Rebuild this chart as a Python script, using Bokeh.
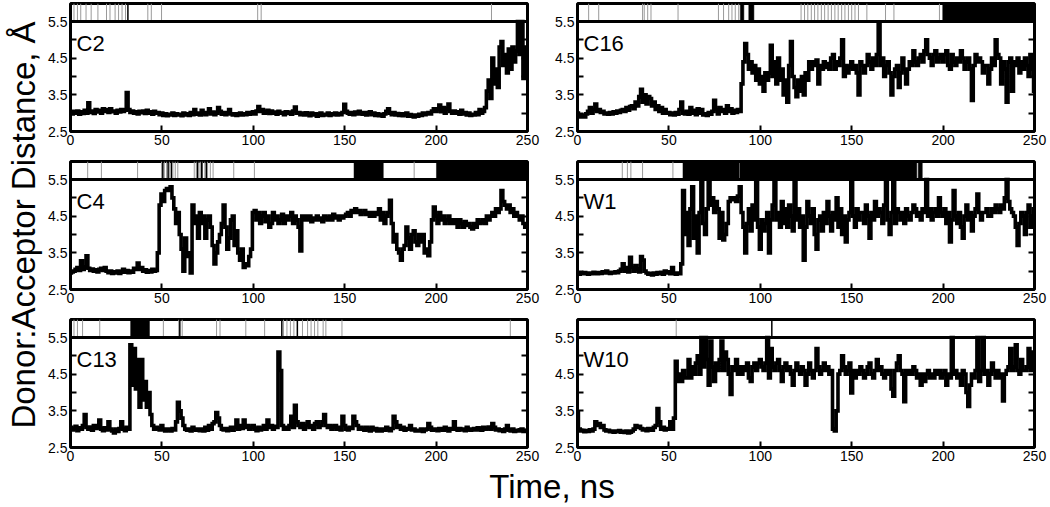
from math import pi
from bokeh.plotting import figure
from bokeh.layouts import row, column
from bokeh.models import Range1d, FixedTicker, LinearAxis, Label, Span, CustomJSTickFormatter
from bokeh.embed import file_html
from bokeh.resources import INLINE

# ---------------- data ----------------
time_ns = list(range(251))
x_ticks = [0, 50, 100, 150, 200, 250]
y_major = [2.5, 3.5, 4.5, 5.5]
y_minor = [3.0, 4.0, 5.0]

c2_dist = [
    3.02, 2.98, 3.05, 3.0, 3.06, 2.97, 3.04, 2.99, 3.08, 3.0,
    3.28, 3.02, 3.06, 2.99, 3.1, 3.03, 3.08, 3.0, 3.12, 3.05,
    3.1, 3.02, 3.12, 3.04, 3.06, 3.0, 3.08, 3.03, 3.1, 3.05,
    3.08, 3.56, 3.1, 3.02, 3.06, 3.0, 3.04, 2.98, 3.05, 3.01,
    3.06, 2.99, 3.08, 3.0, 3.04, 2.97, 3.05, 3.0, 3.02, 2.96,
    3.0, 2.94, 2.98, 2.93, 2.97, 2.95, 3.0, 2.94, 2.98, 2.95,
    2.97, 2.93, 3.0, 2.95, 2.98, 2.94, 3.02, 2.96, 3.1, 2.97,
    3.0, 2.95, 3.08, 3.0, 2.96, 3.02, 3.12, 2.98, 3.03, 2.96,
    3.0, 3.15, 3.05, 2.97, 3.02, 2.96, 3.0, 3.1, 2.98, 2.95,
    2.98, 2.94, 2.97, 3.0, 2.95, 2.98, 2.96, 3.02, 2.97, 3.0,
    3.04, 2.98, 3.06, 3.18, 3.05, 3.1, 3.0, 3.04, 3.08, 2.99,
    3.06, 3.0, 3.03, 2.97, 3.05, 3.0, 3.02, 2.96, 3.04, 2.99,
    3.03, 2.97, 3.06, 3.17, 3.0, 3.02, 2.96, 3.0, 2.95, 3.01,
    2.97, 2.93, 3.0, 2.95, 2.98, 2.92, 2.96, 3.0, 2.94, 2.97,
    2.95, 3.0, 2.94, 2.98, 2.96, 3.0, 2.95, 2.99, 2.96, 3.02,
    3.24, 3.05, 3.0, 2.97, 3.02, 2.96, 3.03, 2.98, 3.05, 3.0,
    2.97, 3.02, 2.95, 3.0, 3.04, 2.96, 3.0, 2.94, 2.98, 2.93,
    2.97, 2.92, 2.98, 3.05, 3.12, 3.0, 2.96, 3.02, 2.95, 2.99,
    2.94, 2.98, 2.93, 2.97, 3.0, 2.92, 2.96, 2.93, 2.9, 2.95,
    2.92, 2.97, 2.94, 3.0, 2.96, 2.99, 3.02, 2.98, 3.06, 3.12,
    3.05, 3.1, 3.22, 3.04, 3.15, 3.0, 3.12, 3.25, 3.05, 3.0,
    3.06, 3.0, 3.04, 2.97, 3.08, 2.98, 3.02, 2.95, 3.0, 2.94,
    2.97, 2.95, 3.02, 2.96, 3.1, 3.0, 3.05, 3.15, 3.6, 3.9,
    3.4, 4.5, 3.8, 4.2, 3.7, 4.8, 4.95, 4.3, 4.6, 4.1,
    4.75, 4.2, 4.8, 4.4, 4.7, 5.5, 4.6, 5.5, 3.95, 4.8,
    4.6,
]

c16_dist = [
    3.0, 2.92, 2.9, 2.95, 2.9, 2.98, 3.05, 3.15, 3.0, 3.1,
    3.25, 3.05, 3.1, 3.02, 3.05, 2.98, 3.0, 2.97, 3.02, 2.98,
    3.04, 3.0, 3.06, 3.02, 3.08, 3.1, 3.05, 3.15, 3.08, 3.18,
    3.2, 3.12, 3.3, 3.2, 3.45, 3.65, 3.3, 3.5, 3.25, 3.45,
    3.4, 3.2, 3.3, 3.1, 3.2, 3.05, 3.15, 3.0, 3.1, 3.0,
    3.02, 2.96, 3.0, 2.95, 3.02, 2.97, 3.1, 3.3, 3.0, 2.98,
    3.05, 2.97, 3.15, 3.0, 3.08, 2.96, 3.12, 3.0, 3.1, 2.95,
    2.98, 2.94, 3.02, 2.97, 3.05, 3.35, 3.1, 2.98, 3.15, 3.05,
    3.1, 3.0, 3.2, 3.05, 3.12, 3.0, 3.08, 3.02, 3.1, 3.05,
    3.8, 4.4, 4.9, 4.6, 4.2, 4.4, 4.1, 4.3, 3.9, 4.2,
    3.8, 4.0, 3.6, 4.1, 3.9, 4.1, 4.85, 4.0, 4.4, 3.8,
    4.5, 3.9, 4.2, 3.5, 3.9, 3.3, 4.3, 4.95, 4.0, 3.7,
    3.45, 3.9, 3.6, 4.0, 3.5, 4.1, 3.9, 4.4, 4.2, 4.4,
    4.3, 4.45, 3.8, 4.3, 4.2, 4.4, 4.25, 4.35, 4.2, 4.5,
    4.6, 4.2, 4.4, 4.3, 4.5, 5.0, 4.0, 4.3, 4.1, 4.25,
    4.4, 4.2, 4.3, 4.1, 3.5, 4.4, 4.3, 4.1, 4.3, 4.6,
    4.4, 4.2, 4.5, 4.3, 4.6, 5.45, 4.3, 4.5, 4.0, 4.3,
    4.4, 4.1, 3.5, 4.0, 4.2, 4.3, 3.7, 4.1, 4.5, 4.2,
    3.8, 4.2, 4.4, 4.3, 4.7, 4.4, 4.3, 4.5, 4.6, 4.4,
    4.7, 5.0, 4.6, 4.5, 4.3, 4.6, 4.7, 4.4, 4.5, 4.6,
    4.4, 4.6, 4.7, 4.3, 4.2, 4.6, 4.4, 4.3, 4.5, 4.4,
    4.7, 4.5, 4.2, 4.4, 4.5, 4.2, 3.35, 4.3, 4.6, 4.4,
    4.5, 4.4, 4.1, 4.3, 4.3, 3.8, 4.2, 4.5, 4.3, 5.0,
    4.6, 4.5, 3.8, 4.4, 4.2, 3.3, 4.4, 4.5, 3.6, 4.4,
    4.3, 4.5, 4.1, 4.4, 4.2, 4.5, 4.3, 4.0, 4.6, 4.2,
    3.6,
]

c4_dist = [
    2.95, 2.98, 3.0, 3.05, 3.1, 3.02, 3.28, 3.05, 3.12, 3.42,
    3.08, 3.02, 3.06, 3.0, 3.04, 2.98, 3.05, 3.08, 3.02, 3.1,
    3.0, 2.96, 3.0, 2.94, 2.98, 2.95, 3.0, 2.94, 2.98, 3.05,
    2.97, 3.02, 2.96, 3.0, 2.97, 3.08, 3.05, 3.22, 3.05, 3.1,
    3.0, 3.04, 2.97, 3.02, 2.98, 3.05, 3.0, 3.02, 3.5, 4.8,
    5.1, 4.9, 5.2, 5.25, 5.2, 5.3, 5.0, 4.7, 4.3, 4.6,
    4.0, 3.6, 3.0, 3.9, 3.4, 3.5, 2.95, 4.8, 4.3, 4.5,
    3.9, 4.6, 4.3, 4.5, 3.9, 4.4, 4.5, 4.2, 3.7, 3.2,
    3.5, 3.8, 4.0, 4.3, 4.8, 4.2, 3.6, 3.9, 4.4, 4.5,
    3.7, 4.1, 3.5, 3.3, 3.6, 3.1, 3.2, 3.15, 3.4, 3.6,
    4.6, 4.65, 4.4, 4.6, 4.3, 4.5, 4.6, 4.35, 4.5, 4.2,
    4.3, 4.6, 4.4, 4.5, 4.3, 4.4, 4.55, 4.3, 4.5, 4.4,
    4.5, 4.6, 4.3, 4.5, 4.4, 4.2, 3.55, 4.5, 4.4, 4.5,
    4.4, 4.5, 4.35, 4.45, 4.4, 4.5, 4.4, 4.45, 4.35, 4.5,
    4.45, 4.4, 4.5, 4.4, 4.55, 4.45, 4.5, 4.4, 4.5, 4.45,
    4.5, 4.55, 4.6, 4.5, 4.65, 4.6, 4.7, 4.6, 4.65, 4.55,
    4.6, 4.65, 4.55, 4.6, 4.5, 4.6, 4.5, 4.6, 4.55, 4.7,
    4.4, 4.6, 4.3, 4.5, 4.6, 4.93, 4.3, 3.8, 4.0, 3.6,
    3.5, 3.3, 3.6, 3.7, 4.2, 3.9, 3.6, 4.0, 4.1, 3.8,
    3.7, 4.0, 3.8, 4.0, 3.5, 3.6, 3.42, 3.8, 4.4, 4.75,
    4.5, 4.3, 4.6, 4.4, 4.5, 4.3, 4.4, 4.5, 4.3, 4.4,
    4.3, 4.4, 4.2, 4.4, 4.3, 4.2, 4.35, 4.25, 4.3, 4.2,
    4.15, 4.3, 4.2, 4.4, 4.3, 4.35, 4.4, 4.3, 4.5, 4.4,
    4.5, 4.6, 4.5, 4.7, 4.6, 4.7, 5.2, 4.9, 4.8, 4.7,
    4.8, 4.6, 4.7, 4.5, 4.6, 4.5, 4.4, 4.5, 4.3, 4.2,
    4.2,
]

w1_dist = [
    2.95, 2.92, 2.95, 2.93, 2.96, 2.94, 2.92, 2.95, 2.93, 2.97,
    2.95, 2.93, 2.96, 2.94, 2.98, 2.95, 3.0, 2.96, 2.94, 2.97,
    2.95, 2.98, 2.96, 3.0, 3.05, 3.2, 3.0, 3.1, 2.98, 3.38,
    3.1, 3.0, 3.15, 3.05, 2.98, 3.4, 3.3, 3.0, 2.95, 2.92,
    2.94, 2.9, 2.95, 2.92, 2.96, 2.93, 2.97, 2.92, 3.0, 2.95,
    2.98, 2.93, 3.1, 2.95, 2.92, 2.95, 2.93, 3.2, 5.2, 4.0,
    4.6, 3.7, 4.7, 5.3, 3.9, 4.5, 3.5, 4.6, 5.5, 4.3,
    4.0, 4.7, 5.5, 4.8, 5.0, 4.6, 4.9, 4.7, 3.9, 4.6,
    3.85, 4.0, 4.3, 4.9, 5.0, 4.95, 5.0, 4.9, 5.05, 5.3,
    4.6, 4.2, 3.5, 4.3, 4.7, 4.1, 4.8, 4.4, 5.5, 4.2,
    3.6, 4.4, 4.1, 4.3, 4.6, 3.5, 4.4, 4.8, 5.5, 4.4,
    4.6, 4.2, 4.9, 4.3, 4.7, 4.2, 4.8, 4.5, 4.1, 5.5,
    4.4, 4.7, 4.2, 4.5, 3.3, 4.2, 4.9, 4.5, 4.3, 4.7,
    4.0, 3.6, 4.4, 4.5, 4.1, 4.6, 4.3, 4.9, 4.5, 4.1,
    4.6, 4.4, 5.0, 4.2, 4.7, 4.0, 4.5, 3.8, 4.4, 4.6,
    5.5, 4.5, 4.2, 4.7, 4.4, 4.6, 4.6, 4.3, 4.8, 4.5,
    3.9, 4.6, 4.4, 4.9, 4.5, 4.7, 4.6, 4.3, 4.8, 5.5,
    4.4, 4.0, 4.6, 5.5, 4.3, 4.7, 4.6, 4.4, 4.6, 4.3,
    4.7, 4.5, 4.4, 4.6, 4.8, 4.7, 4.5, 4.6, 4.4, 4.7,
    4.6, 5.5, 4.5, 4.7, 4.4, 4.6, 4.7, 4.5, 5.0, 4.6,
    4.5, 4.7, 4.3, 4.6, 3.8, 4.4, 5.2, 4.5, 4.3, 4.6,
    4.2, 3.9, 4.5, 4.8, 4.4, 4.6, 4.1, 4.5, 4.7, 5.1,
    4.6, 4.4, 4.6, 4.6, 4.7, 4.5, 4.5, 4.7, 4.6, 4.8,
    4.7, 4.6, 4.8, 4.7, 5.0, 5.5, 4.9, 4.7, 4.6, 4.5,
    4.2, 3.7, 4.3, 4.6, 4.5, 4.0, 4.6, 4.8, 4.2, 4.5,
    4.7,
]

c13_dist = [
    3.05, 2.98, 3.02, 3.08, 2.96, 3.04, 3.0, 3.1, 3.4, 3.05,
    3.0, 3.06, 2.97, 3.1, 3.02, 3.05, 3.25, 3.0, 2.96, 3.04,
    2.98, 3.2, 3.0, 2.95, 2.9, 3.0, 2.94, 3.02, 3.2, 3.0,
    2.96, 3.05, 3.0, 5.3, 4.2, 5.2, 4.1, 4.9, 3.6, 4.9,
    3.8, 4.3, 3.6, 4.0, 3.4, 3.1, 3.0, 3.05, 3.02, 2.98,
    3.1, 3.0, 2.95, 3.0, 2.97, 2.95, 3.02, 2.98, 3.2, 3.73,
    3.5, 3.3, 3.1, 3.0, 2.97, 3.0, 2.95, 3.05, 3.0, 2.97,
    3.0, 2.96, 3.0, 2.95, 3.05, 2.97, 3.1, 3.0, 3.15, 3.2,
    3.45, 3.3, 3.1, 3.0, 2.98, 3.02, 2.96, 3.0, 3.05, 2.97,
    3.05, 3.25, 3.0, 3.1, 3.02, 3.25, 3.05, 3.1, 3.0, 3.05,
    3.1, 3.0, 2.96, 3.05, 2.98, 3.02, 3.1, 3.0, 3.25, 3.05,
    3.1, 3.0, 3.08, 3.05, 5.1, 4.6, 3.1, 3.0, 3.05, 3.0,
    3.1, 3.35, 3.05, 3.65, 3.2, 3.1, 3.05, 3.15, 3.0, 3.1,
    3.2, 3.05, 3.1, 3.0, 3.15, 3.2, 3.05, 3.1, 3.2, 3.4,
    3.1, 3.05, 3.1, 3.0, 3.05, 3.1, 3.0, 3.05, 2.98, 3.35,
    3.1, 3.0, 2.98, 3.05, 3.02, 3.35, 3.2, 3.1, 3.0, 3.05,
    3.0, 2.97, 3.05, 3.0, 2.95, 3.05, 2.98, 3.02, 2.95, 3.0,
    2.95, 3.0, 2.97, 3.05, 3.0, 2.96, 3.02, 3.35, 3.2, 3.05,
    3.1, 3.0, 3.05, 2.97, 3.0, 3.02, 3.1, 2.98, 3.0, 2.95,
    2.97, 2.95, 3.0, 2.94, 2.98, 3.0, 3.15, 3.05, 2.97, 3.0,
    3.0, 2.96, 3.02, 3.0, 2.97, 3.05, 3.0, 2.95, 3.02, 3.0,
    3.2, 3.0, 2.97, 3.02, 2.98, 3.0, 2.96, 3.05, 3.0, 2.97,
    3.0, 3.02, 2.98, 3.04, 3.0, 2.97, 3.05, 3.0, 3.02, 3.06,
    3.0, 3.15, 3.05, 2.98, 3.0, 2.96, 2.98, 2.94, 3.0, 3.1,
    2.97, 2.95, 3.0, 2.94, 2.97, 2.95, 2.98, 3.0, 2.94, 2.96,
    2.95,
]

w10_dist = [
    3.45, 3.0, 2.95, 2.97, 2.93, 2.96, 2.94, 2.98, 2.95, 3.0,
    3.2, 3.1, 3.15, 3.05, 3.1, 2.98, 2.95, 2.97, 2.93, 2.95,
    2.92, 2.95, 2.93, 2.96, 2.92, 2.94, 2.91, 2.95, 2.9, 2.92,
    2.95, 3.0, 3.1, 3.05, 3.08, 3.02, 2.98, 3.0, 2.96, 3.02,
    3.0, 2.97, 3.05, 3.1, 3.56, 3.2, 3.0, 3.05, 2.98, 3.02,
    3.0, 3.2, 3.0, 3.3, 4.85, 4.3, 4.5, 4.3, 4.6, 4.4,
    4.4, 4.9, 4.4, 4.7, 4.5, 4.8, 5.0, 4.5, 5.5, 4.7,
    5.5, 4.9, 4.2, 5.4, 4.7, 4.3, 4.8, 4.6, 4.9, 5.4,
    4.6, 5.1, 4.9, 4.5, 3.95, 4.7, 4.6, 4.9, 4.5, 4.7,
    4.5, 4.7, 4.6, 4.8, 4.4, 4.3, 4.7, 4.8, 4.6, 4.8,
    4.9, 4.7, 4.6, 4.8, 5.5, 4.4, 5.2, 4.7, 4.6, 4.8,
    4.9, 4.6, 4.3, 4.7, 4.8, 4.6, 4.7, 4.5, 4.2, 4.6,
    4.8, 4.6, 4.5, 4.7, 4.6, 4.2, 4.5, 4.8, 4.6, 4.4,
    4.6, 5.2, 4.7, 4.5, 4.6, 4.8, 4.6, 4.7, 4.5, 4.6,
    3.0, 2.95, 3.5, 4.5, 4.6, 5.0, 4.7, 4.5, 4.6, 4.8,
    3.99, 4.6, 4.4, 4.6, 4.5, 4.7, 4.6, 4.4, 4.5, 4.7,
    4.8, 4.5, 4.4, 4.6, 4.9, 4.6, 4.7, 4.5, 4.4, 4.6,
    4.5, 4.6, 4.1, 3.9, 4.6, 4.8, 5.0, 4.6, 4.5, 3.75,
    4.6, 4.5, 4.6, 4.5, 4.7, 4.6, 4.4, 4.5, 4.2, 4.5,
    4.3, 4.5, 4.6, 4.4, 4.5, 4.4, 4.6, 4.5, 4.6, 4.4,
    4.5, 4.6, 4.2, 4.5, 4.4, 5.5, 4.5, 4.6, 4.4, 4.5,
    4.2, 4.6, 4.5, 4.0, 3.62, 4.2, 4.5, 4.4, 4.6, 5.5,
    4.3, 4.6, 5.5, 4.5, 4.6, 4.2, 4.5, 4.8, 4.6, 4.4,
    4.6, 4.4, 4.5, 3.77, 4.5, 4.6, 4.7, 5.2, 4.6, 4.7,
    5.3, 4.6, 4.5, 4.9, 4.6, 4.6, 4.7, 5.2, 4.6, 5.1,
    4.6,
]

# event barcodes (ns): thin grey marks, thin black marks, solid blocks
c2_grey = [1.9, 3.8, 5.6, 8.5, 11.3, 15.0, 19.7, 21.6, 24.4, 26.3, 28.2, 30.1,
           42.3, 44.2, 49.8, 102.4, 104.3, 230.3]
c2_black = [31.4]
c2_block_start, c2_block_end = [], []

c16_grey = [6.1, 11.6, 35.6, 36.5, 38.4, 40.2, 55.0, 77.1, 79.9, 82.7, 84.5, 86.3, 88.2,
            122.3, 124.2, 126.0, 127.9, 129.7, 131.5, 133.4, 135.2, 137.1, 138.9, 140.8,
            142.6, 144.5, 146.3, 148.2, 150.0, 151.8, 153.7, 158.3, 168.5, 173.1, 198.0]
c16_black = []
c16_block_start, c16_block_end = [89.1, 93.7, 199.8], [91.0, 96.5, 250.0]

c4_grey = [9.4, 16.9, 36.7, 49.8, 51.3, 52.6, 54.1, 56.0, 57.3, 58.7, 67.7, 68.8, 70.3,
           71.2, 72.2, 73.5, 75.0, 76.5, 78.0, 89.3, 100.6, 188.0]
c4_black = [50.5, 53.4, 55.2, 69.5, 71.8, 74.3]
c4_block_start, c4_block_end = [155.1, 200.2], [171.1, 250.0]

w1_grey = [24.5, 27.3, 29.2, 35.6, 52.2]
w1_black = []
w1_block_start, w1_block_end = [57.7, 88.8, 186.4], [88.4, 185.6, 188.6]

c13_grey = [1.9, 3.8, 6.6, 16.0, 50.8, 59.2, 61.1, 79.9, 81.8, 95.9, 106.2, 116.5, 118.4,
            120.3, 122.2, 126.9, 129.7, 131.6, 133.5, 135.3, 138.2, 139.7, 148.5, 240.6]
c13_black = [59.8, 115.6, 124.1]
c13_block_start, c13_block_end = [32.9], [43.2]

w10_grey = [54.0]
w10_black = [106.3]
w10_block_start, w10_block_end = [], []

# ---------------- layout constants ----------------
FONT = "Liberation Sans"
W0 = 45          # y-title column width
BL = 24          # left border of panels
F = 458          # frame width
BR_L = 25        # right border, left column
BR_R = 15        # right border, right column
TOP = 3
STRIP_H = 18
MAIN_H = 110
BB = 27
BB_LAST = 20
XL_H = 38
TOTAL_H = 2 * (TOP + STRIP_H + MAIN_H + BB) + (TOP + STRIP_H + MAIN_H + BB_LAST) + XL_H


def style_axis(ax):
    ax.axis_line_color = None
    ax.major_tick_in = 6
    ax.major_tick_out = 0
    ax.minor_tick_in = 6
    ax.minor_tick_out = 0
    ax.major_tick_line_width = 2
    ax.minor_tick_line_width = 2
    ax.major_tick_line_color = "black"
    ax.minor_tick_line_color = "black"
    ax.major_label_text_font = FONT
    ax.major_label_text_font_size = "14px"
    ax.major_label_text_color = "black"
    ax.major_label_standoff = 3


def make_panel(name, dist, grey, black, bstart, bend, br, bb):
    top_val = 5.5 + 3.0 * STRIP_H / MAIN_H
    p = figure(width=BL + F + br, height=TOP + STRIP_H + MAIN_H + bb,
               x_range=Range1d(0, 250), y_range=Range1d(2.5, top_val),
               min_border_left=BL, min_border_right=br, min_border_top=TOP,
               min_border_bottom=bb, toolbar_location=None, output_backend="svg",
               outline_line_color="black", outline_line_width=3)
    p.grid.visible = False
    p.extra_y_ranges = {"strip": Range1d(-MAIN_H / STRIP_H, 1)}

    # barcode strip
    p.segment(x0=grey, y0=0, x1=grey, y1=1, y_range_name="strip",
              line_color="#9a9a9a", line_width=1)
    p.segment(x0=black, y0=0, x1=black, y1=1, y_range_name="strip",
              line_color="black", line_width=1.5)
    p.quad(left=bstart, right=bend, bottom=0, top=1, y_range_name="strip",
           fill_color="black", line_color="black", line_width=0.5)

    # distance trace
    p.step(time_ns[:len(dist)], dist, mode="center", line_color="black",
           line_width=3.6, line_join="miter")

    p.add_layout(Span(location=5.5, dimension="width", line_color="black", line_width=3))

    p.xaxis.ticker = FixedTicker(ticks=x_ticks, minor_ticks=[])
    p.yaxis.ticker = FixedTicker(ticks=y_major, minor_ticks=y_minor)
    style_axis(p.xaxis[0])
    style_axis(p.yaxis[0])

    rax = LinearAxis(ticker=FixedTicker(ticks=y_major + y_minor, minor_ticks=[]),
                     formatter=CustomJSTickFormatter(code="return ''"))
    style_axis(rax)
    rax.major_label_standoff = 0
    p.add_layout(rax, "right")

    p.add_layout(Label(x=0, y=5.5, x_offset=6, y_offset=-22, text=name,
                       text_font=FONT, text_font_size="22px", text_color="black",
                       text_baseline="middle", text_align="left"))
    return p


pC2 = make_panel("C2", c2_dist, c2_grey, c2_black, c2_block_start, c2_block_end, BR_L, BB)
pC16 = make_panel("C16", c16_dist, c16_grey, c16_black, c16_block_start, c16_block_end, BR_R, BB)
pC4 = make_panel("C4", c4_dist, c4_grey, c4_black, c4_block_start, c4_block_end, BR_L, BB)
pW1 = make_panel("W1", w1_dist, w1_grey, w1_black, w1_block_start, w1_block_end, BR_R, BB)
pC13 = make_panel("C13", c13_dist, c13_grey, c13_black, c13_block_start, c13_block_end, BR_L, BB_LAST)
pW10 = make_panel("W10", w10_dist, w10_grey, w10_black, w10_block_start, w10_block_end, BR_R, BB_LAST)

# y-axis title
ylab = figure(width=W0, height=TOTAL_H, x_range=Range1d(0, 1), y_range=Range1d(0, 1),
              min_border=0, x_axis_location=None, y_axis_location=None,
              toolbar_location=None, output_backend="svg", outline_line_color=None)
ylab.grid.visible = False
ylab.add_layout(Label(x=0, y=0.5, x_offset=23, y_offset=28, angle=pi / 2,
                      text="Donor:Acceptor Distance, Å", text_font=FONT,
                      text_font_size="33px", text_color="black",
                      text_align="center", text_baseline="middle"))

# x-axis title
xl_width = (BL + F + BR_L) + (BL + F + BR_R)
xlab = figure(width=xl_width, height=XL_H, x_range=Range1d(0, 1), y_range=Range1d(0, 1),
              min_border_left=BL, min_border_right=BR_R, min_border_top=0, min_border_bottom=0,
              x_axis_location=None, y_axis_location=None,
              toolbar_location=None, output_backend="svg", outline_line_color=None)
xlab.grid.visible = False
xlab.add_layout(Label(x=0.5, y=0, y_offset=19, text="Time, ns", text_font=FONT,
                      text_font_size="33px", text_color="black",
                      text_align="center", text_baseline="middle"))

layout = row(ylab, column(row(pC2, pC16), row(pC4, pW1), row(pC13, pW10), xlab))

open("out.html", "w").write(file_html(layout, INLINE))
